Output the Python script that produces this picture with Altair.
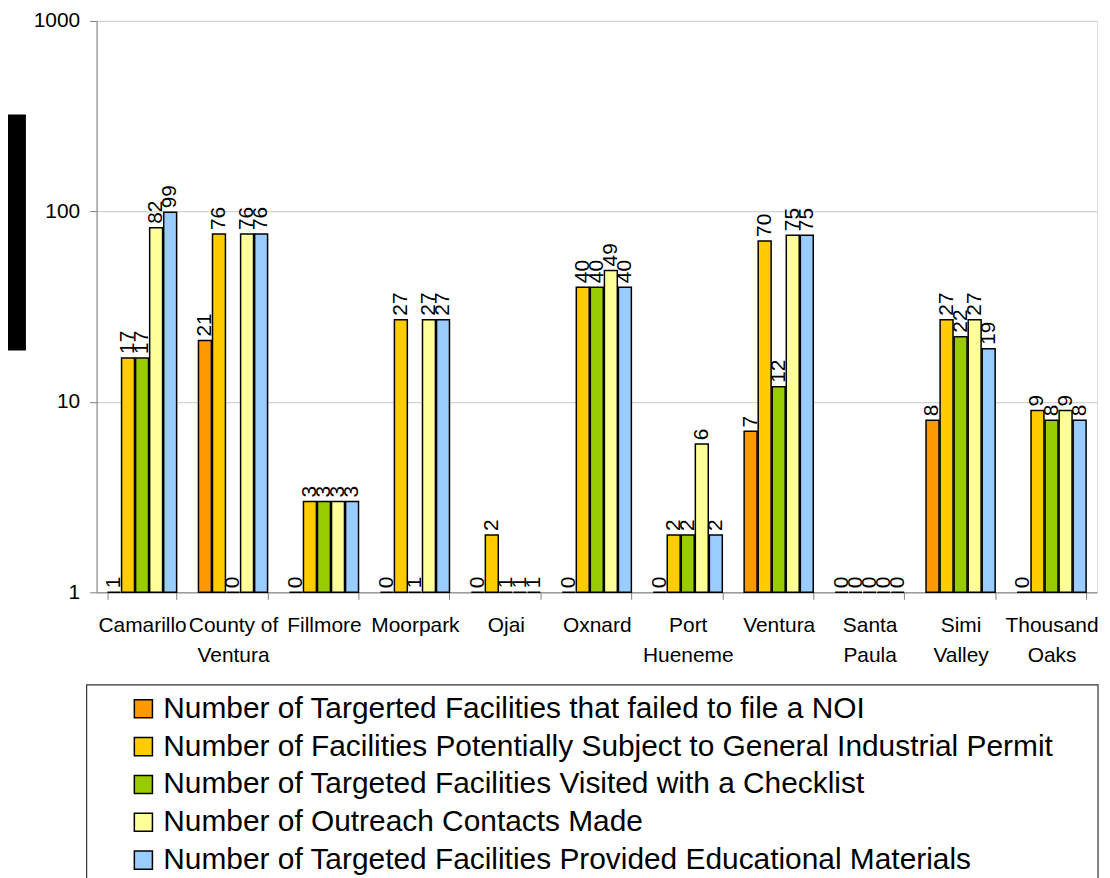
import altair as alt
import pandas as pd

categories = ["Camarillo", "County of|Ventura", "Fillmore", "Moorpark", "Ojai", "Oxnard",
              "Port|Hueneme", "Ventura", "Santa|Paula", "Simi|Valley", "Thousand|Oaks"]
series_names = [
    "Number of Targerted Facilities that failed to file a NOI",
    "Number of Facilities Potentially Subject to General Industrial Permit",
    "Number of Targeted Facilities Visited with a Checklist",
    "Number of Outreach Contacts Made",
    "Number of Targeted Facilities Provided Educational Materials",
]
noi = [1, 21, 0, 0, 0, 0, 0, 7, 0, 8, 0]
permit = [17, 76, 3, 27, 2, 40, 2, 70, 0, 27, 9]
checklist = [17, 0, 3, 1, 1, 40, 2, 12, 0, 22, 8]
outreach = [82, 76, 3, 27, 1, 49, 6, 75, 0, 27, 9]
educational = [99, 76, 3, 27, 1, 40, 2, 75, 0, 19, 8]
colors = ["#FF9900", "#FFCC00", "#99CC00", "#FFFF99", "#99CCFF"]

rows = []
for name, vals in zip(series_names, [noi, permit, checklist, outreach, educational]):
    for c, v in zip(categories, vals):
        rows.append({"city": c, "series": name, "value": v})
df = pd.DataFrame(rows)

W, H = 1005, 574
FONT = "Liberation Sans"

base = alt.Chart(df).transform_calculate(
    plotv="max(datum.value, 1)", one="1"
)

x_enc = alt.X("city:N", sort=categories, title=None,
              scale=alt.Scale(paddingInner=0.24, paddingOuter=0.12),
              axis=alt.Axis(labelAngle=0,
                            labelExpr="datum.value ? split(datum.value, '|') : ''",
                            labelFont=FONT, labelFontSize=21, labelColor="black",
                            labelLineHeight=30, labelPadding=15, tickSize=7,
                            tickBand="extent", domainColor="#808080", tickColor="#808080",
                            labelBaseline="top", grid=False))
xoff = alt.XOffset("series:N", sort=series_names, scale=alt.Scale(paddingInner=0.08))

bars = base.mark_bar(stroke="black", strokeWidth=1.5).encode(
    x=x_enc,
    xOffset=xoff,
    y=alt.Y("plotv:Q", title=None,
            scale=alt.Scale(type="log", domain=[1, 1000], nice=False),
            axis=alt.Axis(values=[1, 10, 100, 1000], format="d", labelFont=FONT,
                          labelFontSize=21, labelColor="black", tickSize=7, labelPadding=10,
                          domainColor="#808080", tickColor="#808080",
                          gridColor="#D4D4D4", gridWidth=1.2)),
    y2="one:Q",
    color=alt.Color("series:N", sort=series_names,
                    scale=alt.Scale(domain=series_names, range=colors),
                    legend=alt.Legend(title=None, orient="none", legendX=32, legendY=676,
                                      labelFont=FONT, labelFontSize=30, labelColor="black",
                                      labelLimit=0, symbolType="square", symbolSize=330,
                                      symbolStrokeColor="black", symbolStrokeWidth=1.5,
                                      labelOffset=5, rowPadding=8, padding=0,
                                      direction="vertical")),
)

labels = base.mark_text(angle=270, align="left", baseline="middle", dx=4,
                        font=FONT, fontSize=21, color="black").encode(
    x=alt.X("city:N", sort=categories),
    xOffset=xoff,
    y=alt.Y("plotv:Q"),
    text=alt.Text("value:Q", format="d"),
)

blackbox = alt.Chart(pd.DataFrame({"k": [0]})).mark_rect(color="black").encode(
    x=alt.value(-92), x2=alt.value(-71), y=alt.value(94), y2=alt.value(331)
)

legend_box = alt.Chart(pd.DataFrame({"k": [0]})).mark_rect(
    fill=None, stroke="#333333", strokeWidth=1.2
).encode(
    x=alt.value(-10), x2=alt.value(1006), y=alt.value(667), y2=alt.value(900)
)

chart = alt.layer(bars, labels, blackbox, legend_box).properties(
    width=W, height=H,
    autosize=alt.AutoSizeParams(type="none"),
    padding={"left": 89, "top": 11, "right": 5, "bottom": 290},
).configure_view(stroke="#888888", strokeWidth=2).configure(background="white")

chart.save("out.html", embed_options={"renderer": "svg", "actions": False})
